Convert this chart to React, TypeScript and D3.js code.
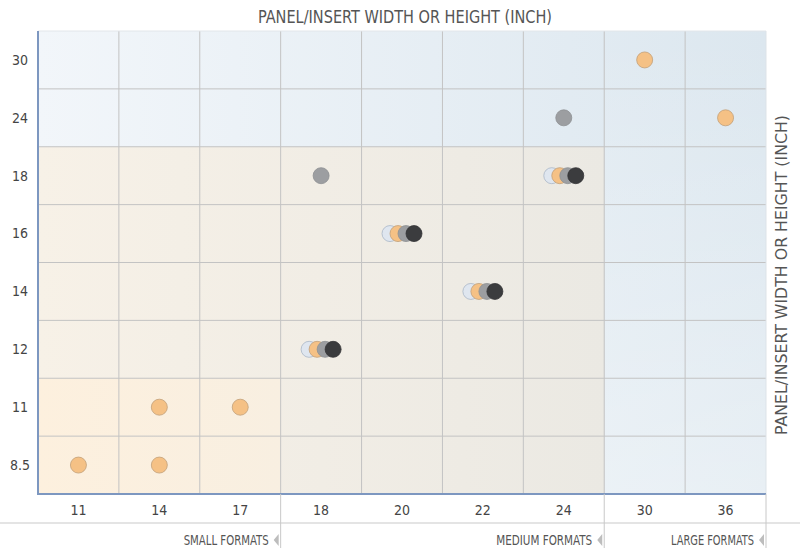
import React from "react";
import * as d3 from "d3";

const xCategories = ["11", "14", "17", "18", "20", "22", "24", "30", "36"];
const yCategories = ["30", "24", "18", "16", "14", "12", "11", "8.5"];

type Pt = { x: string; y: string };
const seriesLight: Pt[] = [
  { x: "18", y: "12" }, { x: "20", y: "16" }, { x: "22", y: "14" }, { x: "24", y: "18" },
];
const seriesOrange: Pt[] = [
  { x: "18", y: "12" }, { x: "20", y: "16" }, { x: "22", y: "14" }, { x: "24", y: "18" },
  { x: "30", y: "30" }, { x: "36", y: "24" }, { x: "14", y: "11" }, { x: "17", y: "11" },
  { x: "11", y: "8.5" }, { x: "14", y: "8.5" },
];
const seriesGray: Pt[] = [
  { x: "18", y: "12" }, { x: "20", y: "16" }, { x: "22", y: "14" }, { x: "24", y: "18" },
  { x: "18", y: "18" }, { x: "24", y: "24" },
];
const seriesDark: Pt[] = [
  { x: "18", y: "12" }, { x: "20", y: "16" }, { x: "22", y: "14" }, { x: "24", y: "18" },
];
const seriesNames = ["light", "orange", "gray", "dark"];
const seriesData = [seriesLight, seriesOrange, seriesGray, seriesDark];
const seriesFill = ["#dfe6ef", "#f5c185", "#9c9ea1", "#3b3c3e"];
const seriesStroke = ["#aab6c6", "#c2a078", "#8e9093", "#333436"];

const formatLabels = ["SMALL FORMATS", "MEDIUM FORMATS", "LARGE FORMATS"];
const formatEnds = ["17", "24", "36"];
const formatWidths = [85, 96, 83];

const FONT = "'DejaVu Sans Condensed', 'Liberation Sans Narrow', 'Roboto', sans-serif";

export default function App() {
  const W = 800, H = 560;
  const left = 38, right = 766, top = 31, bottom = 494;
  const x = d3.scaleBand().domain(xCategories).range([left, right]);
  const y = d3.scaleBand().domain(yCategories).range([top, bottom]);
  const r = 8;
  const step = 8;

  const groups = new Map<string, string[]>();
  seriesData.forEach((s, si) => s.forEach((p) => {
    const k = p.x + "|" + p.y;
    if (!groups.has(k)) groups.set(k, []);
    groups.get(k)!.push(seriesNames[si]);
  }));

  const bx = (c: string) => x(c)!;
  const bw = x.bandwidth();
  const by = (c: string) => y(c)!;
  const bh = y.bandwidth();

  return (
    <svg width={W} height={H} style={{ position: "absolute", left: 0, top: 0, background: "#fff" }}>
      <defs>
        <linearGradient id="blueG" x1="0" y1="0" x2="1" y2="0">
          <stop offset="0" stopColor="#f2f6fa" />
          <stop offset="1" stopColor="#dce7ef" />
        </linearGradient>
        <linearGradient id="fadeG" x1="0" y1="0" x2="0" y2="1">
          <stop offset="0" stopColor="#ffffff" stopOpacity={0} />
          <stop offset="1" stopColor="#ffffff" stopOpacity={0.35} />
        </linearGradient>
        <linearGradient id="beigeG" x1="0" y1="0" x2="1" y2="0">
          <stop offset="0" stopColor="#f7f1e7" />
          <stop offset="1" stopColor="#ebe9e3" />
        </linearGradient>
        <linearGradient id="orangeG" x1="0" y1="0" x2="1" y2="0">
          <stop offset="0" stopColor="#fdf0de" />
          <stop offset="1" stopColor="#f8efe1" />
        </linearGradient>
      </defs>
      <rect x={left} y={top} width={right - left} height={bottom - top} fill="url(#blueG)" />
      <rect x={bx("30")} y={top} width={right - bx("30")} height={bottom - top} fill="url(#fadeG)" />
      <rect x={left} y={by("18")} width={bx("30") - left} height={bottom - by("18")} fill="url(#beigeG)" />
      <rect x={left} y={by("11")} width={bx("18") - left} height={bottom - by("11")} fill="url(#orangeG)" />

      {xCategories.slice(1).map((c) => (
        <line key={"gx" + c} x1={bx(c)} x2={bx(c)} y1={top} y2={bottom} stroke="#c3c3c3" strokeWidth={1} />
      ))}
      {yCategories.slice(1).map((c) => (
        <line key={"gy" + c} x1={left} x2={right} y1={by(c)} y2={by(c)} stroke="#c3c3c3" strokeWidth={1} />
      ))}
      <line x1={left} x2={right} y1={top} y2={top} stroke="#e2e6ea" />
      <line x1={right} x2={right} y1={top} y2={bottom} stroke="#dde3e8" />
      <line x1={left} x2={left} y1={top} y2={bottom + 1} stroke="#7d97c0" strokeWidth={2} />
      <line x1={left} x2={right} y1={bottom} y2={bottom} stroke="#7d97c0" strokeWidth={2} />

      {seriesData.map((s, si) => (
        <g key={seriesNames[si]}>
          {s.map((p, pi) => {
            const g = groups.get(p.x + "|" + p.y)!;
            const idx = g.indexOf(seriesNames[si]);
            const off = (idx - (g.length - 1) / 2) * step;
            return (
              <circle key={pi} cx={bx(p.x) + bw / 2 + off} cy={by(p.y) + bh / 2} r={r}
                fill={seriesFill[si]} stroke={seriesStroke[si]} strokeWidth={0.8} />
            );
          })}
        </g>
      ))}

      {yCategories.map((c) => (
        <text key={"yt" + c} x={20} y={by(c) + bh / 2} dy="0.35em" textAnchor="middle"
          fontFamily={FONT} fontSize={14} fill="#444">{c}</text>
      ))}
      {xCategories.map((c) => (
        <text key={"xt" + c} x={bx(c) + bw / 2} y={510} dy="0.35em" textAnchor="middle"
          fontFamily={FONT} fontSize={14} fill="#444">{c}</text>
      ))}

      <text x={258} y={17} dy="0.35em" textAnchor="start" fontFamily={FONT} fontSize={17}
        textLength={294} lengthAdjust="spacingAndGlyphs" fill="#555">PANEL/INSERT WIDTH OR HEIGHT (INCH)</text>
      <text transform={`translate(781, 435) rotate(-90)`} dy="0.35em" textAnchor="start"
        fontFamily={FONT} fontSize={16} textLength={320} lengthAdjust="spacingAndGlyphs"
        fill="#555">PANEL/INSERT WIDTH OR HEIGHT (INCH)</text>

      <line x1={0} x2={W} y1={523} y2={523} stroke="#e4e4e4" strokeWidth={2} />
      {formatEnds.map((c, i) => {
        const xe = bx(c) + bw;
        return (
          <g key={"fmt" + c}>
            <line x1={xe} x2={xe} y1={bottom} y2={548} stroke="#c8c8c8" strokeWidth={1} />
            <path d={`M${xe - 2},534 L${xe - 7},540 L${xe - 2},546 Z`} fill="#bdbdbd" />
            <text x={xe - 12 - formatWidths[i]} y={540} dy="0.35em" textAnchor="start" fontFamily={FONT}
              fontSize={14} textLength={formatWidths[i]} lengthAdjust="spacingAndGlyphs"
              fill="#555">{formatLabels[i]}</text>
          </g>
        );
      })}
    </svg>
  );
}
